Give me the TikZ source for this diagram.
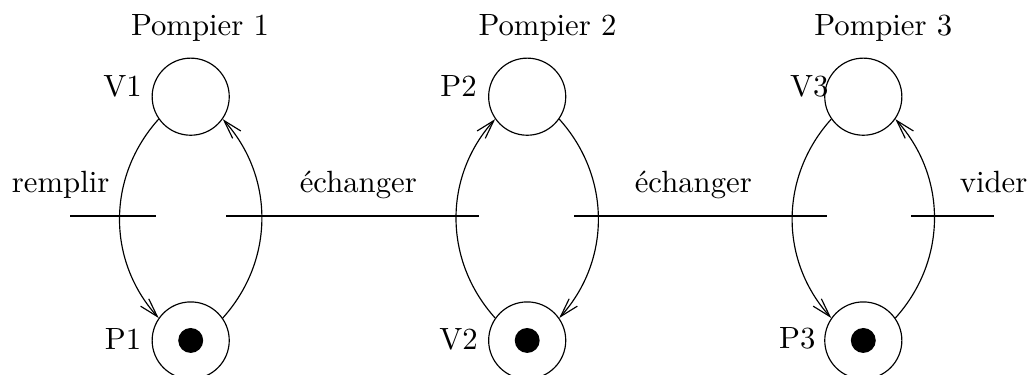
\documentclass[tikz,border=0pt]{standalone}
\usepackage{tikz}
\usetikzlibrary{arrows.meta,positioning}
\begin{document}
\begin{tikzpicture}[
  x=0.345pt, y=0.345pt,
  node distance=57.1pt,
  every node/.append style={font=\fontsize{10.6pt}{12pt}\selectfont},
  place/.style={draw, thin, circle, minimum size=26.6pt, inner sep=0pt},
  marked/.style={place, path picture={\fill (path picture bounding box.center) circle (4.3pt);}},
  transition/.style={fill, rectangle, inner sep=0pt, minimum height=0.8pt},
  lbl/.style={inner sep=0pt, anchor=base east},
  txt/.style={inner sep=0pt, anchor=base},
  arr/.style={-{Straight Barb[length=6.5pt, width=3.8pt]}, thin}
]
\useasboundingbox (0,0) rectangle (1032,375);
\node[place] (V1) at (190.7,278.3) {};
\node[marked, below=of V1] (P1) {};
\node[place] (P2) at (527.2,278.3) {};
\node[marked, below=of P2] (V2) {};
\node[place] (V3) at (863.3,278.3) {};
\node[marked, below=of V3] (P3) {};
\node[txt] (f1) at (200,339) {Pompier 1};
\node[txt] (f2) at (547.5,339) {Pompier 2};
\node[txt] (f3) at (883.3,339) {Pompier 3};
\node[lbl] (lV1) at (142.3,278.3) {V1};
\node[lbl] (lP1) at (141.7,25) {P1};
\node[lbl] (lP2) at (477.3,278.3) {P2};
\node[lbl] (lV2) at (478.3,25) {V2};
\node[lbl] (lV3) at (829,278) {V3};
\node[lbl] (lP3) at (816,26.5) {P3};
\node[transition, minimum width=29.6pt] (remplir) at (112.9,159) {};
\node[transition, minimum width=87.4pt] (ech1) at (352.7,159) {};
\node[transition, minimum width=87.1pt] (ech2) at (700.5,159) {};
\node[transition, minimum width=28.8pt] (vider) at (952.5,159) {};
\node[txt, anchor=base east] (tremplir) at (110,182.7) {remplir};
\node[txt] (tech1) at (358.3,182.7) {échanger};
\node[txt] (tech2) at (693.3,182.7) {échanger};
\node[txt, anchor=base west] (tvider) at (959.3,182.7) {vider};
\draw[arr] (V1.215) to[bend right=42] (P1.145);
\draw[arr] (P1.35) to[bend right=42] (V1.325);
\draw[arr] (V2.145) to[bend left=42] (P2.215);
\draw[arr] (P2.325) to[bend left=42] (V2.35);
\draw[arr] (V3.215) to[bend right=42] (P3.145);
\draw[arr] (P3.35) to[bend right=42] (V3.325);
\end{tikzpicture}
\end{document}
